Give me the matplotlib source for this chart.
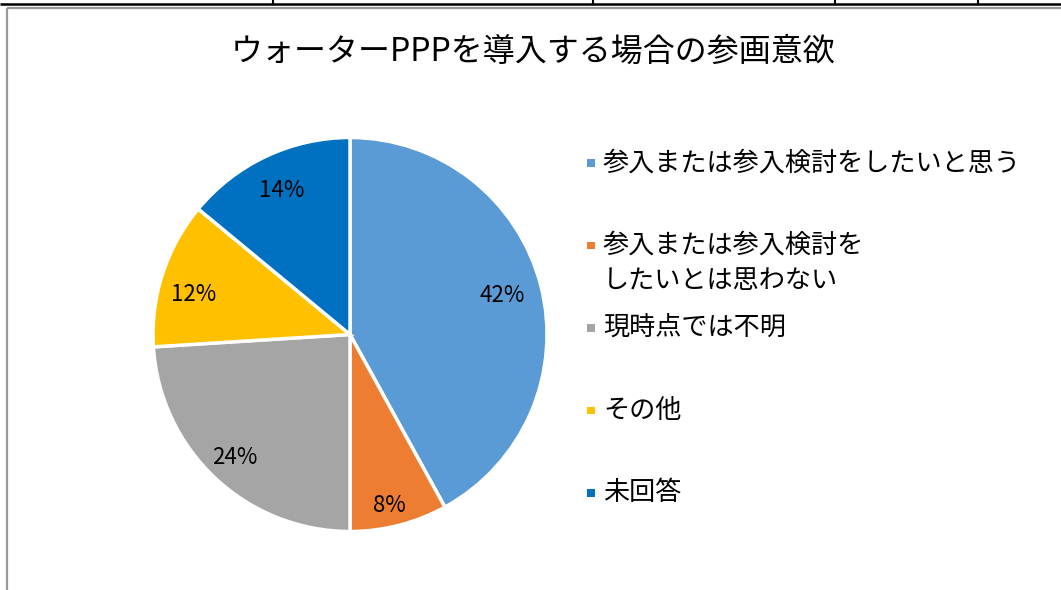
import matplotlib.pyplot as plt
from matplotlib.patches import Rectangle
import numpy as np

plt.rcParams['font.family'] = ['Noto Sans CJK JP', 'DejaVu Sans']

# データ
title = 'ウォーターPPPを導入する場合の参画意欲'
labels = ['参入または参入検討をしたいと思う',
          '参入または参入検討を\nしたいとは思わない',
          '現時点では不明',
          'その他',
          '未回答']
values = [42, 8, 24, 12, 14]
colors = ['#5B9BD5', '#ED7D31', '#A5A5A5', '#FFC000', '#0070C0']

W, H = 1061, 590
fig = plt.figure(figsize=(W / 100, H / 100), dpi=100)
fig.patch.set_facecolor('white')

# ピクセル座標で描く背景用の軸
bg = fig.add_axes([0, 0, 1, 1])
bg.set_xlim(0, W)
bg.set_ylim(H, 0)
bg.axis('off')

# 上の表の罫線とグラフ枠
bg.plot([0, W], [3.5, 3.5], color='black', lw=1.8, solid_capstyle='butt')
for x in [273, 593, 835, 978]:
    bg.plot([x, x], [0, 3.5], color='black', lw=1.5)
bg.plot([7, W], [8, 8], color='#999999', lw=1.6, solid_capstyle='butt')
bg.plot([7, 7], [8, H], color='#999999', lw=1.6, solid_capstyle='butt')

bg.text(533, 52, title, ha='center', va='center', fontsize=23)

# 円グラフ
cx, cy, r = 350, 334.5, 197
ax = fig.add_axes([(cx - r) / W, 1 - (cy + r) / H, 2 * r / W, 2 * r / H])
wedges, _ = ax.pie(values, colors=colors, startangle=90, counterclock=False,
                   wedgeprops=dict(edgecolor='white', linewidth=2.5))
ax.set_xlim(-1, 1)
ax.set_ylim(-1, 1)
ax.set_aspect('auto')

label_dist = [0.80, 0.89, 0.855, 0.82, 0.81]
label_shift = [0, -1.5, 0, 3.7, 0]
for w, v, d, s in zip(wedges, values, label_dist, label_shift):
    ang = np.deg2rad((w.theta1 + w.theta2) / 2 + s)
    ax.text(d * np.cos(ang), d * np.sin(ang), f'{v}%',
            ha='center', va='center', fontsize=16)

# 凡例
y0, dy, line_h = 163, 82.5, 35
for i, (lab, c) in enumerate(zip(labels, colors)):
    y = y0 + i * dy
    bg.add_patch(Rectangle((587, y - 4), 7.5, 7.5, facecolor=c, edgecolor='none'))
    for k, line in enumerate(lab.split('\n')):
        bg.text(603, y + k * line_h, line, ha='left', va='center', fontsize=18.8)

fig.savefig('out.png', dpi=100)
